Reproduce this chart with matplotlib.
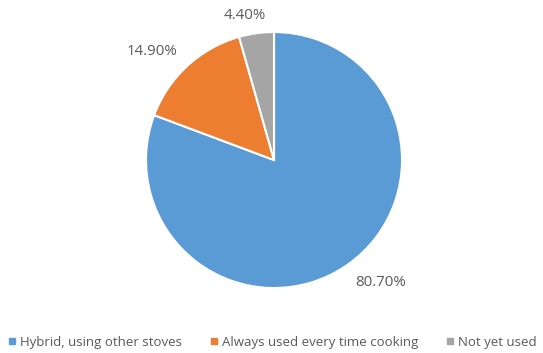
import matplotlib.pyplot as plt
from matplotlib.lines import Line2D

# data
labels = ["Hybrid, using other stoves", "Always used every time cooking", "Not yet used"]
values = [80.70, 14.90, 4.40]
colors = ["#5B9BD5", "#ED7D31", "#A5A5A5"]
label_pos = [(0.83, -0.96), (-0.95, 0.85), (-0.23, 1.13)]

plt.rcParams['font.family'] = ['Open Sans', 'DejaVu Sans']

fig = plt.figure(figsize=(5.43, 3.53), dpi=100)
ax = fig.add_axes([0.2689, 0.1841, 0.4715, 0.7252])
ax.pie(
    values,
    colors=colors,
    startangle=90,
    counterclock=False,
    radius=1,
    wedgeprops=dict(edgecolor='white', linewidth=1.5),
)
ax.set_xlim(-1, 1)
ax.set_ylim(-1, 1)
ax.set_aspect('equal')

for v, (x, y) in zip(values, label_pos):
    ax.text(x, y, f"{v:.2f}%", ha='center', va='center', fontsize=10.8, color='#595959', clip_on=False)

handles = [Line2D([], [], marker='s', linestyle='', markersize=5, color=c) for c in colors]
fig.legend(handles, labels, loc='center', bbox_to_anchor=(0.5, 0.03), ncol=3, frameon=False,
           fontsize=9.5, labelcolor='#595959', handletextpad=0.2, columnspacing=2.0, handlelength=0.8)

fig.savefig("out.png", dpi=100)
